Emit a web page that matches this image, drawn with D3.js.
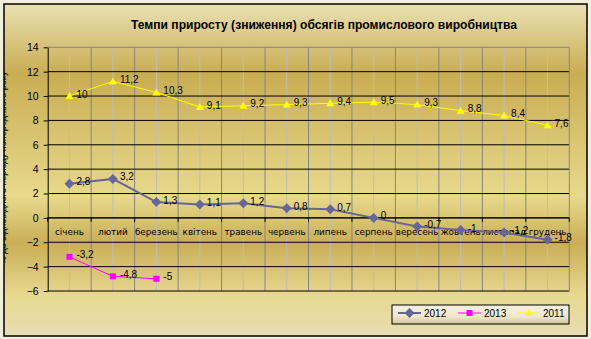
<!DOCTYPE html>
<html>
<head>
<meta charset="utf-8">
<script src="https://cdn.jsdelivr.net/npm/d3@7"></script>
<style>
body { margin: 0; background: #f2eedc; }
svg { display: block; }
</style>
</head>
<body>
<script>
// months on the x axis
var months = ["січень", "лютий", "березень", "квітень", "травень", "червень",
              "липень", "серпень", "вересень", "жовтень", "листопад", "грудень"];
var yTicks = [-6, -4, -2, 0, 2, 4, 6, 8, 10, 12, 14];

var values2012 = [2.8, 3.2, 1.3, 1.1, 1.2, 0.8, 0.7, 0, -0.7, -1, -1.2, -1.8];
var values2013 = [-3.2, -4.8, -5];
var values2011 = [10, 11.2, 10.3, 9.1, 9.2, 9.3, 9.4, 9.5, 9.3, 8.8, 8.4, 7.6];

var series = [
  {name: "2012", values: values2012, color: "#666699", width: 2, marker: "diamond"},
  {name: "2013", values: values2013, color: "#ff00ff", width: 1, marker: "square"},
  {name: "2011", values: values2011, color: "#ffff00", width: 1, marker: "triangle"}
];

var W = 591, H = 339;
var plot = {left: 47.7, right: 569.3, top: 47.3, bottom: 291};

var svg = d3.select("body").append("svg")
    .attr("width", W)
    .attr("height", H);

var defs = svg.append("defs");

// background gradient of the chart area
var bg = defs.append("linearGradient")
    .attr("id", "bg")
    .attr("x1", 0).attr("y1", 0).attr("x2", 0).attr("y2", 1);
[[0, "#e9e0b3"], [0.21, "#c9ad53"], [0.58, "#e8d98c"], [0.72, "#c9ae56"],
 [0.88, "#e8d991"], [1, "#e6ddb5"]].forEach(function(s) {
  bg.append("stop").attr("offset", s[0]).attr("stop-color", s[1]);
});

var lg = defs.append("linearGradient")
    .attr("id", "lg")
    .attr("x1", 0).attr("y1", 0).attr("x2", 0).attr("y2", 1);
[[0, "#f6f2e0"], [0.6, "#efe8cc"], [1, "#d2c59a"]].forEach(function(s) {
  lg.append("stop").attr("offset", s[0]).attr("stop-color", s[1]);
});

defs.append("clipPath").attr("id", "chartClip")
  .append("rect").attr("x", 4).attr("y", 4).attr("width", 583).attr("height", 332);

// chart area with border
svg.append("rect")
    .attr("x", 4).attr("y", 4)
    .attr("width", 583).attr("height", 332)
    .attr("fill", "url(#bg)")
    .attr("stroke", "#000")
    .attr("stroke-width", 1.5);

// scales
var x = d3.scaleBand()
    .domain(months)
    .range([plot.left, plot.right]);

var y = d3.scaleLinear()
    .domain([-6, 14])
    .range([plot.bottom, plot.top]);

var xc = function(i) { return x(months[i]) + x.bandwidth() / 2; };

// vertical gridlines: light at the centres, darker at the boundaries
svg.append("g")
  .selectAll("line")
  .data(months)
  .enter().append("line")
    .attr("x1", function(d) { return x(d) + x.bandwidth() / 2; })
    .attr("x2", function(d) { return x(d) + x.bandwidth() / 2; })
    .attr("y1", plot.top).attr("y2", plot.bottom)
    .attr("stroke", "#bdbdbd")
    .attr("stroke-width", 1);

svg.append("g")
  .selectAll("line")
  .data(months.slice(1))
  .enter().append("line")
    .attr("x1", function(d) { return x(d); })
    .attr("x2", function(d) { return x(d); })
    .attr("y1", plot.top).attr("y2", plot.bottom)
    .attr("stroke", "#858585")
    .attr("stroke-width", 1);

// horizontal gridlines
svg.append("g")
  .selectAll("line")
  .data(yTicks.filter(function(t) { return t !== 14; }))
  .enter().append("line")
    .attr("x1", plot.left).attr("x2", plot.right)
    .attr("y1", function(d) { return y(d); })
    .attr("y2", function(d) { return y(d); })
    .attr("stroke", "#000")
    .attr("stroke-width", 1);

// plot border (top and right in grey)
svg.append("path")
    .attr("d", "M" + plot.left + "," + plot.top + "H" + plot.right + "V" + plot.bottom)
    .attr("fill", "none")
    .attr("stroke", "#858585");

// y axis
var yAxis = svg.append("g")
    .attr("transform", "translate(" + plot.left + ",0)")
    .call(d3.axisLeft(y).tickValues(yTicks).tickSize(4).tickSizeOuter(0).tickPadding(5));
yAxis.select(".domain").attr("stroke", "#000");
yAxis.selectAll("text")
    .attr("font-family", "Liberation Sans, Arial, sans-serif")
    .attr("font-size", 10.5)
    .attr("fill", "#000");

// x axis at zero
var xAxis = svg.append("g")
    .attr("transform", "translate(0," + y(0) + ")");
xAxis.append("line")
    .attr("x1", plot.left).attr("x2", plot.right)
    .attr("stroke", "#000");
xAxis.selectAll(".tick")
  .data(months.concat(["end"]))
  .enter().append("line")
    .attr("x1", function(d, i) { return plot.left + i * x.bandwidth(); })
    .attr("x2", function(d, i) { return plot.left + i * x.bandwidth(); })
    .attr("y1", 0).attr("y2", 4)
    .attr("stroke", "#000");
xAxis.selectAll("text")
  .data(months)
  .enter().append("text")
    .attr("x", function(d, i) { return xc(i); })
    .attr("y", 17.5)
    .attr("text-anchor", "middle")
    .attr("font-family", "DejaVu Sans, Verdana, sans-serif")
    .attr("font-size", 8.8)
    .attr("fill", "#000")
    .text(function(d) { return d; });

// series lines
var line = d3.line()
    .x(function(d, i) { return xc(i); })
    .y(function(d) { return y(d); });

series.forEach(function(s) {
  svg.append("path")
      .datum(s.values)
      .attr("d", line)
      .attr("fill", "none")
      .attr("stroke", s.color)
      .attr("stroke-width", s.width);
});

function markerPath(type, cx, cy) {
  if (type === "diamond") {
    return "M" + cx + "," + (cy - 5) + "L" + (cx + 5) + "," + cy + "L" + cx + "," + (cy + 5) + "L" + (cx - 5) + "," + cy + "Z";
  }
  if (type === "square") {
    return "M" + (cx - 3) + "," + (cy - 3) + "h6v6h-6Z";
  }
  return "M" + cx + "," + (cy - 4) + "L" + (cx + 4) + "," + (cy + 3) + "L" + (cx - 4) + "," + (cy + 3) + "Z";
}

series.forEach(function(s) {
  svg.append("g")
    .selectAll("path")
    .data(s.values)
    .enter().append("path")
      .attr("d", function(d, i) { return markerPath(s.marker, xc(i), y(d)); })
      .attr("fill", s.color);
});

// data labels
var fmt = function(v) { return String(v).replace(".", ","); };
series.forEach(function(s) {
  svg.append("g")
    .selectAll("text")
    .data(s.values)
    .enter().append("text")
      .attr("x", function(d, i) { return xc(i) + 7; })
      .attr("y", function(d) { return y(d) + 1.5; })
      .attr("font-family", "Liberation Sans, Arial, sans-serif")
      .attr("font-size", 10)
      .attr("fill", "#000")
      .text(fmt);
});

// title
svg.append("text")
    .attr("x", 324)
    .attr("y", 29)
    .attr("text-anchor", "middle")
    .attr("font-family", "Liberation Sans, Arial, sans-serif")
    .attr("font-weight", "bold")
    .attr("font-size", 12)
    .attr("textLength", 386)
    .attr("lengthAdjust", "spacingAndGlyphs")
    .attr("fill", "#000")
    .text("Темпи приросту (зниження) обсягів промислового виробництва");

// y axis title, mostly clipped by the chart border
svg.append("g")
    .attr("clip-path", "url(#chartClip)")
  .append("text")
    .attr("transform", "translate(6,168) rotate(-90)")
    .attr("text-anchor", "middle")
    .attr("font-family", "Liberation Sans, Arial, sans-serif")
    .attr("font-size", 9)
    .attr("textLength", 193)
    .attr("lengthAdjust", "spacingAndGlyphs")
    .attr("fill", "#000")
    .text("% до відповідного періоду попереднього року");

// legend
var legend = svg.append("g");
legend.append("rect")
    .attr("x", 392).attr("y", 305)
    .attr("width", 177).attr("height", 19)
    .attr("fill", "url(#lg)")
    .attr("stroke", "#000")
    .attr("stroke-width", 1);

var legendX = [398, 458, 517];
series.forEach(function(s, i) {
  var g = legend.append("g").attr("transform", "translate(" + legendX[i] + ",313)");
  g.append("line")
      .attr("x1", 0).attr("x2", 23)
      .attr("stroke", s.color)
      .attr("stroke-width", s.width);
  g.append("path")
      .attr("d", markerPath(s.marker, 11.5, 0))
      .attr("fill", s.color);
  g.append("text")
      .attr("x", 26)
      .attr("y", 4)
      .attr("font-family", "Liberation Sans, Arial, sans-serif")
      .attr("font-size", 10)
      .attr("fill", "#000")
      .text(s.name);
});
</script>
</body>
</html>
